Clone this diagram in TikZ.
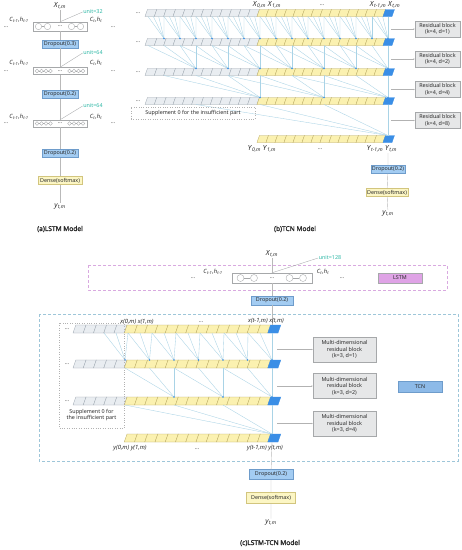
\documentclass[tikz,border=0pt]{standalone}
\usepackage{fontspec}
\setmainfont{Noto Sans}[AutoFakeBold=1.6]
\usetikzlibrary{arrows.meta,calc}

\definecolor{cellgray}{HTML}{E9EDF1}
\definecolor{cellgrayline}{HTML}{9AA4AE}
\definecolor{cellyel}{HTML}{FBF1B0}
\definecolor{cellyelline}{HTML}{B8A860}
\definecolor{cellblue}{HTML}{3A8EE6}
\definecolor{linkblue}{HTML}{A9D3E6}
\definecolor{unitteal}{HTML}{2DB8A6}
\definecolor{dropfill}{HTML}{A3CCF2}
\definecolor{dropline}{HTML}{6E9CCB}
\definecolor{densefill}{HTML}{FCF6C4}
\definecolor{denseline}{HTML}{D2C57E}
\definecolor{resfill}{HTML}{E6E7E8}
\definecolor{resline}{HTML}{A6A8AA}
\definecolor{lstmfill}{HTML}{DFA3E6}
\definecolor{lstmdash}{HTML}{D9A9E0}
\definecolor{tcnfill}{HTML}{8DBAE8}
\definecolor{tcndash}{HTML}{9EC6D9}
\definecolor{txt}{HTML}{2B2B2B}

\tikzstyle{smalltxt} = [font=\fontsize{5.4}{6.4}\selectfont, text=txt]
\tikzstyle{drop} = [smalltxt, draw=dropline, fill=dropfill, inner sep=0.8pt, minimum height=8pt, line width=0.4pt]
\tikzstyle{dense} = [smalltxt, draw=denseline, fill=densefill, inner sep=0.8pt, minimum height=8pt, line width=0.4pt]
\tikzstyle{resblock} = [smalltxt, draw=resline, fill=resfill, align=center, inner sep=0pt, minimum width=45pt, minimum height=16pt, line width=0.4pt]
\tikzstyle{mresblock} = [resblock, minimum width=63pt, minimum height=25pt]
\tikzstyle{lstmcell} = [draw=resline, fill=white, inner sep=0pt, line width=0.4pt]
\tikzstyle{neuron} = [circle, draw=resline, fill=white, inner sep=0pt, line width=0.35pt]
\tikzstyle{wire} = [draw=resline, line width=0.35pt]
\tikzstyle{flow} = [draw=gray!55, line width=0.4pt]
\tikzstyle{link} = [draw=linkblue, line width=0.35pt]
\tikzstyle{unitlab} = [font=\fontsize{5.4}{6}\selectfont, text=unitteal, inner sep=0.5pt]
\tikzstyle{unitline} = [draw=resline, line width=0.35pt]
\tikzstyle{mlab} = [font=\fontsize{7}{8}\selectfont, text=txt, inner sep=0.5pt]
\tikzstyle{clab} = [font=\fontsize{5.8}{6.5}\selectfont, text=txt, inner sep=0.5pt]
\tikzstyle{paneltitle} = [font=\fontsize{6.6}{8}\selectfont\bfseries, text=txt]
\tikzstyle{graycell} = [draw=cellgrayline, fill=cellgray, line width=0.3pt]
\tikzstyle{yelcell} = [draw=cellyelline, fill=cellyel, line width=0.3pt]
\tikzstyle{bluecell} = [draw=cellblue, fill=cellblue, line width=0.3pt]
\tikzstyle{ndot} = [circle, fill=cellblue, inner sep=0pt, minimum size=1.6pt]
\tikzstyle{supp} = [draw=gray!60, dotted, line width=0.4pt]
\tikzstyle{feed} = [draw=gray!60, line width=0.35pt, -{Stealth[length=1.5pt,width=1.2pt]}]

% italic label with subscript
\newcommand{\vlab}[2]{\textit{#1}\textsubscript{\textit{#2}}}
% one row of slanted cells: x0, y, width, height, count, style
\newcommand{\cellrow}[6]{%
  \foreach \q in {1,...,#5}
    \filldraw[#6] ({#1+(\q-1)*#3},{#2+#4/2}) -- ++(#3,0) -- ++({#4*0.35},-#4)
      -- ++(-#3,0) -- cycle;}

\begin{document}
\begin{tikzpicture}[x=1pt, y=-1pt]
    \useasboundingbox[fill=white] (0,0) rectangle (462,550);

    % ---------------- (a) LSTM model ----------------
    \node[mlab] (aX) at (60,6) {\vlab{X}{t,m}};
    \node[lstmcell, minimum width=54pt, minimum height=9pt] (acell1) at (60,26.5) {};
    \node[lstmcell, minimum width=54pt, minimum height=7pt] (acell2) at (60,71) {};
    \node[lstmcell, minimum width=54pt, minimum height=7pt] (acell3) at (60,123.5) {};
    \foreach \cx [count=\i] in {38.5,47.5,71.5,80.5}
        \node[neuron, minimum size=6.4pt] (a1c\i) at (\cx,26.5) {};% big neurons
    \draw[wire] (a1c1) -- (a1c2) (a1c3) -- (a1c4);
    \node[smalltxt] (a1d) at (60,26.5) {…};
    \foreach \n/\y in {2/71,3/123.5} {
        \foreach \cx [count=\i] in {37,41.5,46,50.5,69.5,74,78.5,83}
            \node[neuron, minimum size=3.6pt] (a\n c\i) at (\cx,\y) {};
        \foreach \i/\j in {1/2,2/3,3/4,5/6,6/7,7/8}
            \draw[wire] (a\n c\i) -- (a\n c\j);
        \node[smalltxt] (a\n d) at (60,\y) {…};
    }
    % state labels and dashes
    \foreach \n/\y in {1/20,2/63,3/117} {
        \node[clab] (aCl\n) at (19,\y) {\vlab{C}{t-1}\textit{,h}\textsubscript{\textit{t-1}}};
        \node[clab] (aCr\n) at (96,\y) {\vlab{C}{t}\textit{,h}\textsubscript{\textit{t}}};
    }
    \foreach \n/\y in {1/27,2/71,3/123.5} {
        \node[smalltxt] (adl\n) at (6,\y) {…};
        \node[smalltxt] (adr\n) at (113,\y) {…};
    }
    % units
    \node[unitlab] (aunit1) at (93,12) {unit=32};
    \node[unitlab] (aunit2) at (93,53) {unit=64};
    \node[unitlab] (aunit3) at (93,106) {unit=64};
    \foreach \n in {1,2,3}
        \draw[unitline] (acell\n.north) -- (aunit\n.west);
    \node[drop, minimum width=36pt] (adrop1) at (60,44) {Dropout(0.3)};
    \node[drop, minimum width=36pt] (adrop2) at (60,94.5) {Dropout(0.2)};
    \node[drop, minimum width=36pt] (adrop3) at (60,153.5) {Dropout(0.2)};
    \node[dense, minimum width=44pt] (adense) at (60,180.5) {Dense(softmax)};
    \node[mlab] (ay) at (60,206) {\vlab{y}{t,m}};
    \draw[flow] (aX) -- (acell1) -- (adrop1) -- (acell2) -- (adrop2)
        -- (acell3) -- (adrop3) -- (adense) -- (ay);
    \node[paneltitle] (atitle) at (60,229) {(a)LSTM Model};

    % ---------------- (b) TCN model ----------------
    \foreach \y in {13,42,72,101} {
        \cellrow{145}{\y}{9.33}{7}{12}{graycell}
        \cellrow{257}{\y}{9}{7}{14}{yelcell}
        \cellrow{383}{\y}{9}{7}{1}{bluecell}
        \node[smalltxt] (bdash\y) at (138,\y) {…};
    }
    \cellrow{257}{139}{9}{7}{14}{yelcell}% output row
    \cellrow{383}{139}{9}{7}{1}{bluecell}
    % taps of every layer
    \foreach \i in {0,...,45}
        \coordinate (b1m\i) at ({388-16/3*\i},16.5);
    \foreach \k in {0,...,15} {
        \coordinate (b2n\k) at ({388-16*\k},38.5);
        \coordinate (b2m\k) at ({388-16*\k},45.5);
    }
    \foreach \k in {0,...,7} {
        \coordinate (b3n\k) at ({388-32*\k},68.5);
        \coordinate (b3m\k) at ({388-32*\k},75.5);
    }
    \foreach \k in {0,...,3} {
        \coordinate (b4n\k) at ({388-64*\k},97.5);
        \coordinate (b4m\k) at ({388-64*\k},104.5);
    }
    \coordinate (b5n0) at (388,135.5);
    % dilated connections, k=4
    \foreach \k in {0,...,14}
        \foreach \j in {0,...,3} {
            \pgfmathtruncatemacro\s{3*\k+\j}
            \draw[link] (b1m\s) -- (b2n\k);
        }
    \foreach \k in {0,...,6}
        \foreach \j in {0,...,3} {
            \pgfmathtruncatemacro\s{2*\k+\j}
            \draw[link] (b2m\s) -- (b3n\k);
        }
    \foreach \k in {0,...,2}
        \foreach \j in {0,...,3} {
            \pgfmathtruncatemacro\s{2*\k+\j}
            \draw[link] (b3m\s) -- (b4n\k);
        }
    \foreach \j in {0,...,3}
        \draw[link] (b4m\j) -- (b5n0);
    \foreach \k in {0,...,14} \node[ndot] at (b2n\k) {};
    \foreach \k in {0,...,6} \node[ndot] at (b3n\k) {};
    \foreach \k in {0,...,2} \node[ndot] at (b4n\k) {};
    % labels
    \node[mlab] (bX0) at (267,5) {\vlab{X}{0,m} \vlab{X}{1,m}};
    \node[smalltxt] (bXd) at (322,5) {…};
    \node[mlab] (bXt) at (385,5) {\vlab{X}{t-1,m} \vlab{X}{t,m}};
    \node[mlab] (bY0) at (262,149) {\vlab{Y}{0,m} \vlab{Y}{1,m}};
    \node[smalltxt] (bYd) at (320,149) {…};
    \node[mlab] (bYt) at (382,149) {\vlab{Y}{t-1,m} \vlab{Y}{t,m}};
    \node[supp, smalltxt, minimum width=124pt, minimum height=12pt] (bsupp)
        at (193,113) {Supplement 0 for the insufficient part};
    % residual blocks
    \foreach \n/\y/\dd in {1/29/1,2/59/2,3/89.5/4,4/120.5/8} {
        \node[resblock] (bres\n) at (437.5,\y) {Residual block\\(k=4, d=\dd)};
        \coordinate (bfeed\n) at (391,\y);
        \draw[feed] (bfeed\n) -- (bres\n);
    }
    \node[drop, minimum width=33pt] (bdrop) at (388,169.5) {Dropout(0.2)};
    \node[dense, minimum width=42pt] (bdense) at (387,192.5) {Dense(softmax)};
    \node[mlab] (by) at (388,213) {\vlab{y}{t,m}};
    \draw[flow] (bYt.south -| bdrop.north) -- (bdrop) -- (bdense) -- (by);
    \node[paneltitle] (btitle) at (295,229) {(b)TCN Model};

    % ---------------- (c) LSTM-TCN model ----------------
    \draw[lstmdash, dash pattern=on 3pt off 2pt, line width=0.5pt] (88,265) rectangle (447,290);
    \draw[tcndash, dash pattern=on 3pt off 2pt, line width=0.5pt] (39,314) rectangle (458,461);
    \node[mlab] (cX) at (272,254) {\vlab{X}{t,m}};
    \node[lstmcell, minimum width=80pt, minimum height=10pt] (clstm) at (272,278) {};
    \foreach \cx [count=\i] in {240.5,254,289.5,303}
        \node[neuron, minimum size=7pt] (cc\i) at (\cx,278) {};
    \draw[wire] (cc1) -- (cc2) (cc3) -- (cc4);
    \node[smalltxt] (ccd) at (272,278) {…};
    \node[clab] (cCl) at (213,272) {\vlab{C}{t-1}\textit{,h}\textsubscript{\textit{t-1}}};
    \node[clab] (cCr) at (323,272) {\vlab{C}{t}\textit{,h}\textsubscript{\textit{t}}};
    \node[smalltxt] (cdl) at (193,278) {…};
    \node[smalltxt] (cdr) at (342,278) {…};
    \node[unitlab] (cunit) at (330,258) {unit=128};
    \draw[unitline] (clstm.north) -- (cunit.west);
    \node[smalltxt, draw=resline, fill=lstmfill, minimum width=44pt, minimum height=10pt,
        inner sep=0pt] (cLSTM) at (400,278) {LSTM};
    \node[drop, minimum width=42pt, minimum height=9pt] (cdrop1) at (272,300.5) {Dropout(0.2)};
    \draw[flow] (cX) -- (clstm) -- (cdrop1);
    % TCN rows
    \foreach \y in {329,364,401} {
        \cellrow{73}{\y}{10.25}{8}{5}{graycell}
        \cellrow{124.25}{\y}{10.25}{8}{14}{yelcell}
        \cellrow{267.75}{\y}{10.25}{8}{1}{bluecell}
        \node[smalltxt] (cdash\y) at (67,\y) {…};
    }
    \cellrow{124.25}{438}{10.25}{8}{14}{yelcell}% output row
    \cellrow{267.75}{438}{10.25}{8}{1}{bluecell}
    \coordinate (c1top) at (272,325);
    \draw[flow] (cdrop1) -- (c1top);
    \foreach \i in {0,...,14}
        \coordinate (c1m\i) at ({272-12*\i},333);
    \foreach \k in {0,...,6} {
        \coordinate (c2n\k) at ({272-24.5*\k},360);
        \coordinate (c2m\k) at ({272-24.5*\k},368);
    }
    \foreach \k in {0,...,3} {
        \coordinate (c3n\k) at ({272-49*\k},397);
        \coordinate (c3m\k) at ({272-49*\k},405);
    }
    \coordinate (c4n0) at (272,434);
    \coordinate (c4b) at (272,442);
    % dilated connections, k=3
    \foreach \k in {0,...,6}
        \foreach \j in {0,...,2} {
            \pgfmathtruncatemacro\s{2*\k+\j}
            \draw[link] (c1m\s) -- (c2n\k);
        }
    \foreach \k in {0,...,2}
        \foreach \j in {0,...,2} {
            \pgfmathtruncatemacro\s{2*\k+\j}
            \draw[link] (c2m\s) -- (c3n\k);
        }
    \foreach \j in {0,...,3}
        \draw[link] (c3m\j) -- (c4n0);
    \foreach \k in {0,...,6} \node[ndot] at (c2n\k) {};
    \foreach \k in {0,...,2} \node[ndot] at (c3n\k) {};
    % labels
    \node[clab] (cx0) at (137,322) {\textit{x(0,m) x(1,m)}};
    \node[smalltxt] (cxd) at (201,322) {…};
    \node[clab] (cxt) at (266,321) {\textit{x(t-1,m) x(t,m)}};
    \node[clab] (cy0) at (130,448) {\textit{y(0,m) y(1,m)}};
    \node[smalltxt] (cyd) at (197,449) {…};
    \node[clab] (cyt) at (265,448) {\textit{y(t-1,m) y(t,m)}};
    \draw[supp] (59,323) rectangle (124,428);
    \node[smalltxt, align=center] (csupp) at (91.5,415) {Supplement 0 for\\the insufficient part};
    % multi-dimensional residual blocks
    \foreach \n/\y/\dd in {1/349.5/1,2/386/2,3/423.5/4} {
        \node[mresblock] (cres\n) at (344.5,\y) {Multi-dimensional\\residual block\\(k=3, d=\dd)};
        \coordinate (cfeed\n) at (277,\y);
        \draw[feed] (cfeed\n) -- (cres\n);
    }
    \node[smalltxt, draw=dropline, fill=tcnfill, minimum width=44pt, minimum height=11pt,
        inner sep=0pt] (cTCN) at (420,386.5) {TCN};
    \node[drop, minimum width=44pt, minimum height=10pt] (cdrop2) at (271,474.5) {Dropout(0.2)};
    \node[dense, minimum width=49pt, minimum height=11pt] (cdense) at (271,497.5) {Dense(softmax)};
    \node[mlab] (cy) at (271,522) {\vlab{y}{t,m}};
    \draw[flow] (c4b) -- (cdrop2) -- (cdense) -- (cy);
    \node[paneltitle] (ctitle) at (270,543) {(c)LSTM-TCN Model};
\end{tikzpicture}
\end{document}
